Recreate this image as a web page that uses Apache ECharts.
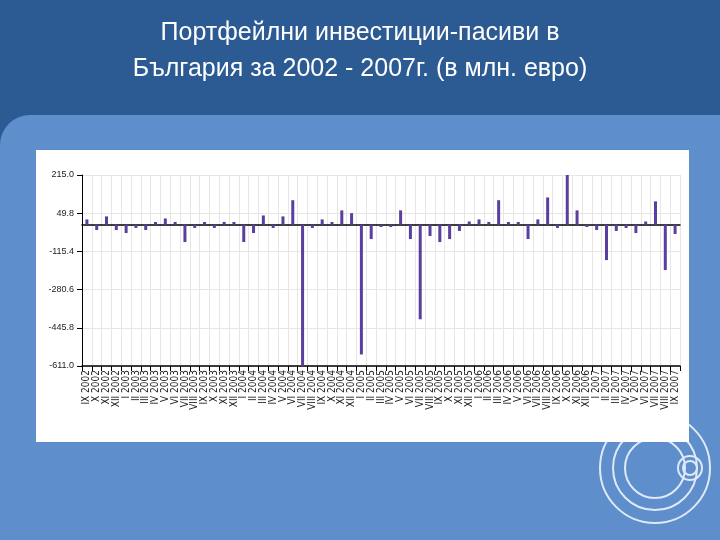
<!DOCTYPE html>
<html><head><meta charset="utf-8">
<script src="https://cdn.jsdelivr.net/npm/echarts@6/dist/echarts.min.js"></script>
<style>html,body{margin:0;padding:0;}#c{width:720px;height:540px;}</style>
</head><body><div id="c"></div>
<script>
const categories = ["IX 2002","X 2002","XI 2002","XII 2002",
"I 2003","II 2003","III 2003","IV 2003","V 2003","VI 2003","VII 2003","VIII 2003","IX 2003","X 2003","XI 2003","XII 2003",
"I 2004","II 2004","III 2004","IV 2004","V 2004","VI 2004","VII 2004","VIII 2004","IX 2004","X 2004","XI 2004","XII 2004",
"I 2005","II 2005","III 2005","IV 2005","V 2005","VI 2005","VII 2005","VIII 2005","IX 2005","X 2005","XI 2005","XII 2005",
"I 2006","II 2006","III 2006","IV 2006","V 2006","VI 2006","VII 2006","VIII 2006","IX 2006","X 2006","XI 2006","XII 2006",
"I 2007","II 2007","III 2007","IV 2007","V 2007","VI 2007","VII 2007","VIII 2007","IX 2007"];
const values = [23,-23,36,-23,
-36,-14,-23,12,27,12,-75,-14,12,-14,12,12,
-75,-36,40,-14,36,106,-611,-14,23,12,62,50,
-561,-62,-10,-10,62,-62,-409,-49,-75,-62,-27,14,
23,12,106,12,12,-62,23,118,-14,215,62,-10,
-23,-153,-27,-14,-36,14,101,-196,-40];
const yMin = -611, yMax = 215, yStep = 165.2;
const titleText = "Портфейлни инвестиции-пасиви в\nБългария за 2002 - 2007г. (в млн. евро)";

const chart = echarts.init(document.getElementById('c'));
chart.setOption({
  backgroundColor: '#2c5b93',
  title: {text: titleText, left: 'center', top: 10,
    textStyle: {color: '#ffffff', fontSize: 25, fontWeight: 'normal', fontFamily: 'Liberation Sans', lineHeight: 36}},
  graphic: [
    {type: 'rect', z: 0, shape: {x: 0, y: 115, width: 760, height: 460, r: 30}, style: {fill: '#5e8ecb'}},
    {type: 'circle', z: 1, shape: {cx: 655, cy: 468, r: 55}, style: {fill: 'none', stroke: '#dfe9f7', lineWidth: 2}},
    {type: 'circle', z: 1, shape: {cx: 655, cy: 468, r: 42}, style: {fill: 'none', stroke: '#dfe9f7', lineWidth: 2}},
    {type: 'circle', z: 1, shape: {cx: 655, cy: 468, r: 30}, style: {fill: 'none', stroke: '#dfe9f7', lineWidth: 2}},
    {type: 'circle', z: 1, shape: {cx: 690, cy: 468, r: 12}, style: {fill: 'none', stroke: '#dfe9f7', lineWidth: 2}},
    {type: 'circle', z: 1, shape: {cx: 690, cy: 468, r: 7}, style: {fill: 'none', stroke: '#dfe9f7', lineWidth: 2}},
    {type: 'rect', z: 1, shape: {x: 36, y: 150, width: 653, height: 292}, style: {fill: '#ffffff'}}
  ],
  grid: {left: 82, right: 40, top: 175, bottom: 174, z: 5},
  xAxis: [
    {type: 'category', data: categories, z: 5, axisLine: {onZero: true, lineStyle: {color: '#000', width: 1.5}},
     axisTick: {show: false}, axisLabel: {show: false},
     splitLine: {show: true, interval: 0, lineStyle: {color: '#e6e6e6'}}},
    {type: 'category', data: categories, position: 'bottom', z: 5,
     axisLine: {onZero: false, lineStyle: {color: '#000', width: 1.5}},
     axisTick: {show: true, interval: 0, lineStyle: {color: '#000'}},
     axisLabel: {interval: 0, rotate: 90, fontSize: 10, color: '#222', fontFamily: 'DejaVu Sans Condensed', margin: 4}}
  ],
  yAxis: {type: 'value', min: yMin, max: yMax, interval: yStep, z: 5,
    axisLine: {show: true, lineStyle: {color: '#000'}}, axisTick: {show: true, lineStyle: {color: '#000'}},
    axisLabel: {fontSize: 9, color: '#222', formatter: v => v.toFixed(1)},
    splitLine: {lineStyle: {color: '#e6e6e6'}}},
  series: [{type: 'bar', xAxisIndex: 0, data: values, barWidth: 3, z: 6, itemStyle: {color: '#5a3ea0'}}]
});
</script></body></html>
